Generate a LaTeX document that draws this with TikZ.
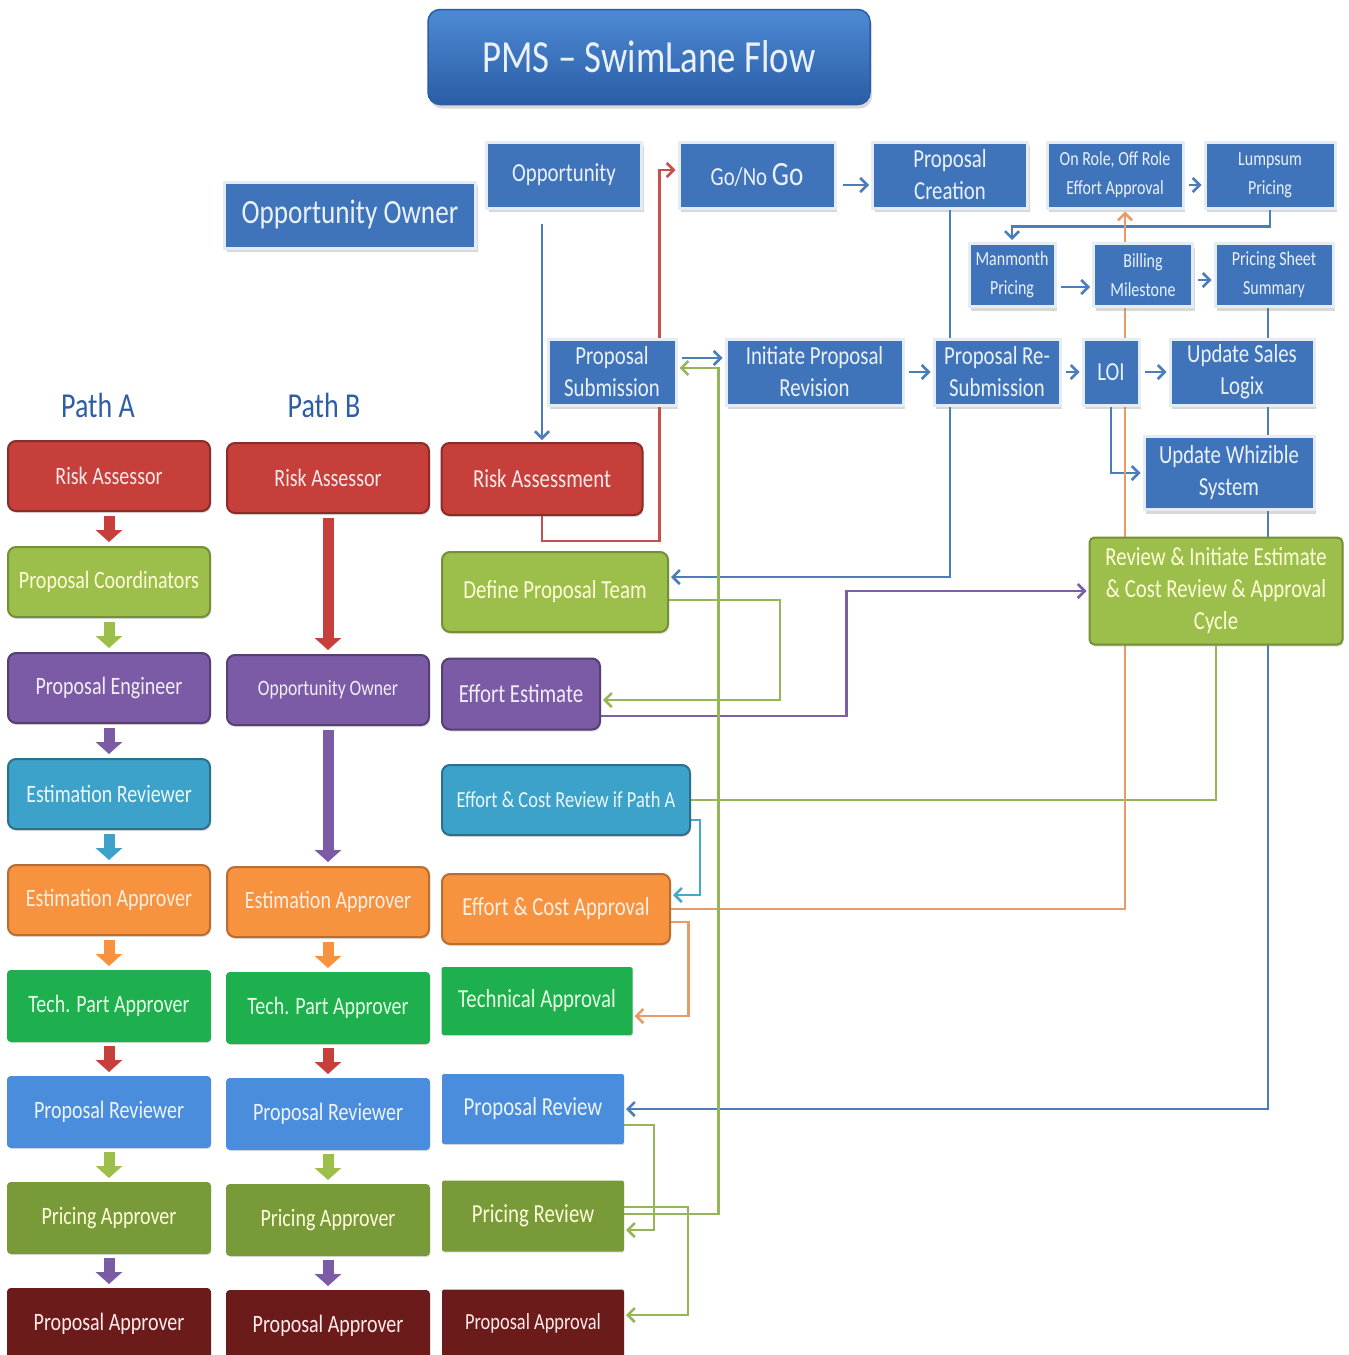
\documentclass[tikz,border=0pt]{standalone}
\usepackage{fontspec}
\setmainfont{Carlito}[FakeStretch=0.8]
\usetikzlibrary{positioning, arrows.meta, backgrounds, shadows}

\definecolor{topblue}{HTML}{3F74BB}
\definecolor{topedge}{HTML}{E4ECF5}
\definecolor{toptext}{HTML}{EAF1FA}
\definecolor{titletop}{HTML}{4E8AD4}
\definecolor{titlebot}{HTML}{2A5DA6}
\definecolor{pathblue}{HTML}{2E5EA6}
\definecolor{riskred}{HTML}{C63F3B}
\definecolor{coordgreen}{HTML}{9CBF4B}
\definecolor{engpurple}{HTML}{7B5AA6}
\definecolor{revteal}{HTML}{3CA2CA}
\definecolor{apporange}{HTML}{F7923F}
\definecolor{techgreen}{HTML}{1EAF4E}
\definecolor{propblue}{HTML}{4A8DDC}
\definecolor{priceolive}{HTML}{789A38}
\definecolor{apprmaroon}{HTML}{6C1B1B}
\definecolor{lineblue}{HTML}{4A7DBA}
\definecolor{linered}{HTML}{C8504B}
\definecolor{linegreen}{HTML}{95B656}
\definecolor{linepurple}{HTML}{7D5FA4}
\definecolor{lineorange}{HTML}{E89A68}
\definecolor{lineteal}{HTML}{48A8CC}

\newcommand{\lanefont}{\fontsize{25}{28}\selectfont}
\newcommand{\topfont}{\fontsize{26}{32}\selectfont}
\newcommand{\sboxfont}{\fontsize{20}{29}\selectfont}

\tikzstyle{flowline} = [line width=2.5pt, -{Straight Barb[length=7pt,width=14pt]}, shorten >=2pt]

\begin{document}
\begin{tikzpicture}[
        x=1pt, y=-1pt,
        every node/.style={align=center}, % centred text everywhere
        nline/.style={line width=2.5pt}, % connector without tip
        blockarrow/.style={line width=11pt, -{Triangle[length=12pt,width=26pt]}, shorten <=4pt, shorten >=4pt},
        topbox/.style={rectangle, fill=topblue, draw=topedge, line width=3pt, text=toptext, inner sep=2pt, font=\topfont,
            minimum height=66pt, drop shadow={shadow xshift=2pt, shadow yshift=-4pt, opacity=0.3}},
        smallbox/.style={topbox, font=\sboxfont, minimum height=63pt},
        lane/.style={rectangle, rounded corners=8pt, line width=2pt, minimum width=202pt, minimum height=70pt, font=\lanefont,
            drop shadow={shadow xshift=1pt, shadow yshift=-2pt, opacity=0.25}},
        redlane/.style={lane, fill=riskred, draw=riskred!70!black, text=riskred!12},
        greenlane/.style={lane, fill=coordgreen, draw=coordgreen!75!black, text=yellow!15},
        purplelane/.style={lane, fill=engpurple, draw=engpurple!70!black, text=engpurple!10},
        teallane/.style={lane, fill=revteal, draw=revteal!70!black, text=revteal!10},
        orangelane/.style={lane, fill=apporange, draw=apporange!75!black, text=apporange!15},
        techlane/.style={lane, fill=techgreen, draw=techgreen, rounded corners=3pt, text=green!10},
        bluelane/.style={lane, fill=propblue, draw=propblue, rounded corners=3pt, text=propblue!10},
        olivelane/.style={lane, fill=priceolive, draw=priceolive, rounded corners=3pt, text=yellow!15},
        maroonlane/.style={lane, fill=apprmaroon, draw=apprmaroon, rounded corners=3pt, text=red!8}
    ]
        \useasboundingbox (0,0) rectangle (1349,1355);

        % Title
        \node (title) at (649,57) [rectangle, rounded corners=12pt, minimum width=442pt, minimum height=95pt,
            top color=titletop, bottom color=titlebot, draw=titlebot, line width=1.5pt, text=toptext,
            font=\fontsize{46}{48}\selectfont, drop shadow={shadow xshift=2pt, shadow yshift=-4pt, opacity=0.3}] {PMS – SwimLane Flow};

        % Top flow
        \node (oppowner) at (350,215) [topbox, minimum width=251pt, font=\fontsize{34}{36}\selectfont] {Opportunity Owner};
        \node (opp) at (564,175) [topbox, minimum width=155pt] {Opportunity};
        \node (gonogo) at (757,175) [topbox, minimum width=156pt] {Go/No {\fontsize{34}{34}\selectfont Go}};
        \node (pcreate) at (950,175) [topbox, minimum width=155pt] {Proposal\\Creation};
        \node (onrole) at (1115,175) [smallbox, minimum width=136pt, minimum height=66pt] {On Role, Off Role\\Effort Approval};
        \node (lumpsum) at (1270,175) [smallbox, minimum width=130pt, minimum height=66pt] {Lumpsum\\Pricing};
        \node (manmonth) at (1012,275) [smallbox, minimum width=86pt] {Manmonth\\Pricing};
        \node (billing) at (1143,275) [smallbox, minimum width=99pt] {Billing\\Milestone};
        \node (pss) at (1274,275) [smallbox, minimum width=118pt] {Pricing Sheet\\Summary};
        \node (psub) at (612,372) [topbox, minimum width=128pt] {Proposal\\Submission};
        \node (initrev) [topbox, minimum width=177pt, right=47pt of psub] {Initiate Proposal\\Revision};
        \node (resub) [topbox, minimum width=126pt, right=28pt of initrev] {Proposal Re-\\Submission};
        \node (loi) [topbox, minimum width=56pt, right=20pt of resub] {LOI};
        \node (usl) [topbox, minimum width=144pt, right=28pt of loi] {Update Sales\\Logix};
        \node (whiz) at (1229,473) [topbox, minimum width=170pt, minimum height=73pt] {Update Whizible\\System};
        \node (review) at (1216,591) [greenlane, minimum width=253pt, minimum height=107pt, rounded corners=5pt,
            font=\fontsize{26}{32}\selectfont] {Review \& Initiate Estimate\\\& Cost Review \& Approval\\Cycle};

        % Path labels
        \node (pathA) at (98,405) [text=pathblue, font=\fontsize{35}{36}\selectfont] {Path A};
        \node (pathB) at (324,405) [text=pathblue, font=\fontsize{35}{36}\selectfont] {Path B};

        % Path A column
        \node (raA) at (109,476) [redlane] {Risk Assessor};
        \node (pcoA) [greenlane, below=34pt of raA] {Proposal Coordinators};
        \node (peA) [purplelane, below=34pt of pcoA] {Proposal Engineer};
        \node (erA) [teallane, below=34pt of peA] {Estimation Reviewer};
        \node (eaA) [orangelane, below=34pt of erA] {Estimation Approver};
        \node (tpA) [techlane, below=34pt of eaA] {Tech. Part Approver};
        \node (prA) [bluelane, below=34pt of tpA] {Proposal Reviewer};
        \node (paA) [olivelane, below=34pt of prA] {Pricing Approver};
        \node (papA) [maroonlane, below=34pt of paA] {Proposal Approver};

        % Path B column
        \node (raB) at (328,478) [redlane] {Risk Assessor};
        \node (ooB) [purplelane, below=140pt of raB, font=\fontsize{22}{24}\selectfont] {Opportunity Owner};
        \node (eaB) [orangelane, below=140pt of ooB] {Estimation Approver};
        \node (tpB) [techlane, below=34pt of eaB] {Tech. Part Approver};
        \node (prB) [bluelane, below=34pt of tpB] {Proposal Reviewer};
        \node (paB) [olivelane, below=34pt of prB] {Pricing Approver};
        \node (papB) [maroonlane, below=34pt of paB] {Proposal Approver};

        % Activities column
        \node (rassess) at (542,479) [redlane, minimum width=201pt, minimum height=72pt, font=\fontsize{26}{28}\selectfont] {Risk Assessment};
        \node (defteam) at (555,592) [greenlane, minimum width=226pt, minimum height=80pt, font=\fontsize{26}{28}\selectfont] {Define Proposal Team};
        \node (effest) at (521,694) [purplelane, minimum width=158pt, minimum height=71pt, font=\fontsize{26}{28}\selectfont] {Effort Estimate};
        \node (ecrev) at (566,800) [teallane, minimum width=248pt, minimum height=70pt, font=\fontsize{23}{25}\selectfont] {Effort \& Cost Review if Path A};
        \node (ecappr) at (556,909) [orangelane, minimum width=228pt, minimum height=70pt, font=\fontsize{26}{28}\selectfont] {Effort \& Cost Approval};
        \node (techappr) at (537,1001) [techlane, minimum width=189pt, minimum height=66pt, rounded corners=1pt, font=\fontsize{26}{28}\selectfont] {Technical Approval};
        \node (prevw) at (533,1109) [bluelane, minimum width=180pt, minimum height=68pt, rounded corners=1pt, font=\fontsize{26}{28}\selectfont] {Proposal Review};
        \node (pricerev) at (533,1216) [olivelane, minimum width=180pt, minimum height=69pt, rounded corners=1pt, font=\fontsize{26}{28}\selectfont] {Pricing Review};
        \node (pappr) at (533,1323) [maroonlane, minimum width=180pt, minimum height=65pt, rounded corners=1pt, font=\fontsize{23}{25}\selectfont] {Proposal Approval};

        % Block arrows down the two paths
        \foreach \from/\to/\col in {raA/pcoA/riskred, pcoA/peA/coordgreen, peA/erA/engpurple, erA/eaA/revteal,
                eaA/tpA/apporange, tpA/prA/riskred, prA/paA/coordgreen, paA/papA/engpurple,
                raB/ooB/riskred, ooB/eaB/engpurple, eaB/tpB/apporange, tpB/prB/riskred, prB/paB/coordgreen, paB/papB/engpurple}
            \draw[blockarrow, \col] (\from) -- (\to);

        \begin{scope}[on background layer]
            \fill[white] (0,0) rectangle (1349,1355);

            % Opportunity to risk assessment, then on to Go/No Go
            \coordinate (oppfoot) at (rassess.north |- opp.south);
            \draw[flowline, lineblue] ([yshift=-14pt]oppfoot) -- (rassess.north);
            \draw[flowline, linered] (rassess.south) -- ++(0,25) -| ([xshift=-18pt,yshift=5pt]gonogo.west) -- ([yshift=5pt]gonogo.west);
            \draw[flowline, lineblue] ([xshift=6pt,yshift=-10pt]gonogo.east) -- ([yshift=-10pt]pcreate.west);
            \draw[flowline, lineblue] (pcreate.south) |- ([yshift=15pt]defteam.east);

            % Pricing boxes
            \draw[flowline, lineblue] ([xshift=4pt,yshift=-10pt]onrole.east) -- ([yshift=-10pt]lumpsum.west);
            \draw[flowline, lineblue] (lumpsum.south) -- ++(0,17) -| (manmonth.north);
            \draw[flowline, lineblue] ([xshift=4pt,yshift=-12pt]manmonth.east) -- ([yshift=-12pt]billing.west);
            \draw[flowline, lineblue] ([xshift=4pt,yshift=-5pt]billing.east) -- ([yshift=-5pt]pss.west);
            \draw[flowline, lineblue] ([xshift=-6pt]pss.south) |- (prevw.east);

            % Submission row
            \draw[flowline, lineblue] ([xshift=4pt,yshift=14pt]psub.east) -- ([yshift=14pt]initrev.west);
            \draw[flowline, lineblue] ([xshift=4pt]initrev.east) -- (resub.west);
            \draw[flowline, lineblue] ([xshift=4pt]resub.east) -- (loi.west);
            \draw[flowline, lineblue] ([xshift=4pt]loi.east) -- (usl.west);
            \draw[flowline, lineblue] (loi.south) |- (whiz.west);

            % Estimate cycle
            \draw[flowline, linegreen] ([yshift=-8pt]defteam.east) -| ([xshift=179pt,yshift=-6pt]effest.east) -- ([yshift=-6pt]effest.east);
            \draw[flowline, linepurple] ([yshift=-22pt]effest.east) -| ([xshift=-242pt]review.west) -- (review.west);
            \draw[nline, linegreen] (ecrev.east) -| (review.south);
            \draw[flowline, lineteal] ([yshift=-20pt]ecrev.east) -| ([xshift=29pt,yshift=14pt]ecappr.east) -- ([yshift=14pt]ecappr.east);
            \draw[flowline, lineorange] (ecappr.east) -| ([xshift=10pt]onrole.south);
            \draw[flowline, lineorange] ([yshift=-13pt]ecappr.east) -| ([xshift=56pt,yshift=-15pt]techappr.east) -- ([yshift=-15pt]techappr.east);

            % Review and approval
            \draw[flowline, linegreen] ([yshift=-16pt]prevw.east) -| ([xshift=30pt,yshift=-14pt]pricerev.east) -- ([yshift=-14pt]pricerev.east);
            \draw[flowline, linegreen] ([yshift=9pt]pricerev.east) -| ([xshift=64pt,yshift=8pt]pappr.east) -- ([yshift=8pt]pappr.east);
            \draw[flowline, linegreen] ([yshift=2pt]pricerev.east) -| ([xshift=41pt,yshift=4pt]psub.east) -- ([yshift=4pt]psub.east);
        \end{scope}

    \end{tikzpicture}
\end{document}
